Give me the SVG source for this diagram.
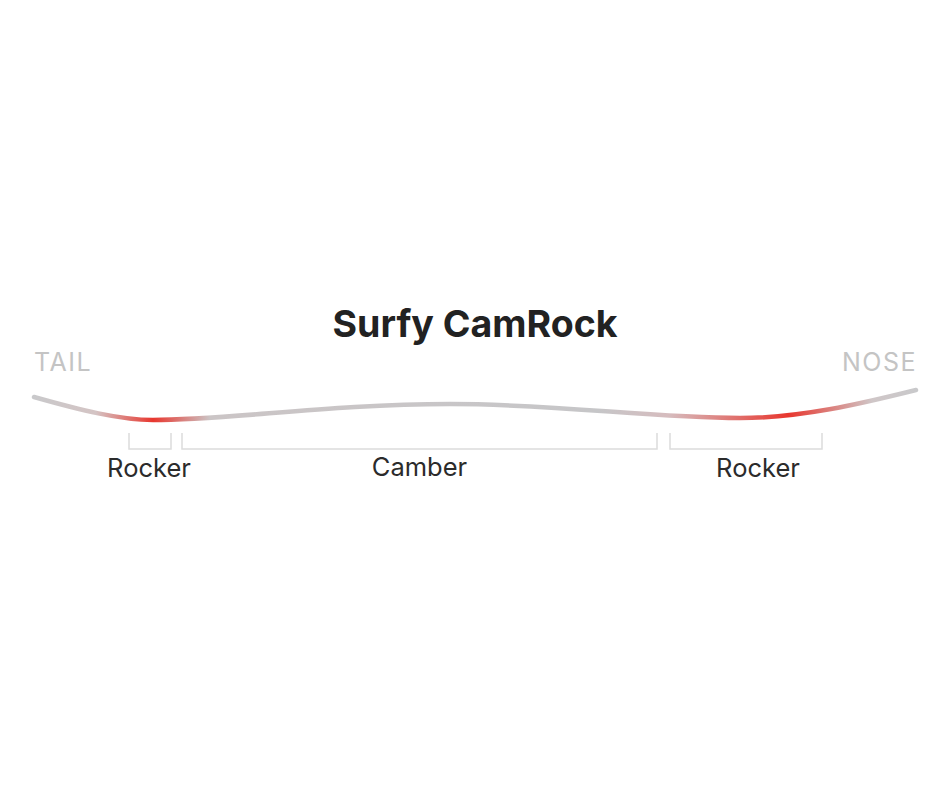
<svg xmlns="http://www.w3.org/2000/svg" width="940" height="788" viewBox="0 0 940 788">
<defs>
<linearGradient id="boardGrad" gradientUnits="userSpaceOnUse" x1="34" y1="0" x2="916" y2="0">
<stop offset="0" stop-color="#c9c9cb"/>
<stop offset="0.07" stop-color="#d4c4c4"/>
<stop offset="0.135" stop-color="#e8362e"/>
<stop offset="0.2" stop-color="#cbc5c6"/>
<stop offset="0.64" stop-color="#c6c6c8"/>
<stop offset="0.72" stop-color="#d6bcbe"/>
<stop offset="0.855" stop-color="#e8362e"/>
<stop offset="0.95" stop-color="#cfc6c7"/>
<stop offset="1" stop-color="#c9c9cb"/>
</linearGradient>
</defs>
<style>
.lbl{font-family:Inter,"Liberation Sans",sans-serif;font-size:25.5px;fill:#2b2b2b;text-anchor:middle}
.end{font-family:Inter,"Liberation Sans",sans-serif;font-size:25px;fill:#c4c4c4;letter-spacing:1.5px}
.title{font-family:Inter,"Liberation Sans",sans-serif;font-size:37.5px;font-weight:bold;fill:#222;text-anchor:middle}
.br{fill:none;stroke:#dcdcdc;stroke-width:1.5}
</style>
<rect width="940" height="788" fill="#fff"/>
<g id="title"><text class="title" x="475" y="337">Surfy CamRock</text></g>
<g id="tail"><text class="end" x="34" y="371">TAIL</text></g>
<g id="nose"><text class="end" x="917" y="371" text-anchor="end">NOSE</text></g>
<g id="board"><path d="M34,397 C80,410 120,420 153,420 C230,420 330,404 450,404 C560,404 650,418 740,418 C800,418 860,404 916,390" fill="none" stroke="url(#boardGrad)" stroke-width="4.5" stroke-linecap="round"/></g>
<g id="connectors">
<path class="br" d="M129,433 V449 H171 V433"/>
<path class="br" d="M182,433 V449 H657 V433"/>
<path class="br" d="M670,433 V449 H822 V433"/>
</g>
<g id="rocker-tail"><text class="lbl" x="149" y="477">Rocker</text></g>
<g id="camber"><text class="lbl" x="419.5" y="476">Camber</text></g>
<g id="rocker-nose"><text class="lbl" x="758" y="477">Rocker</text></g>
</svg>
